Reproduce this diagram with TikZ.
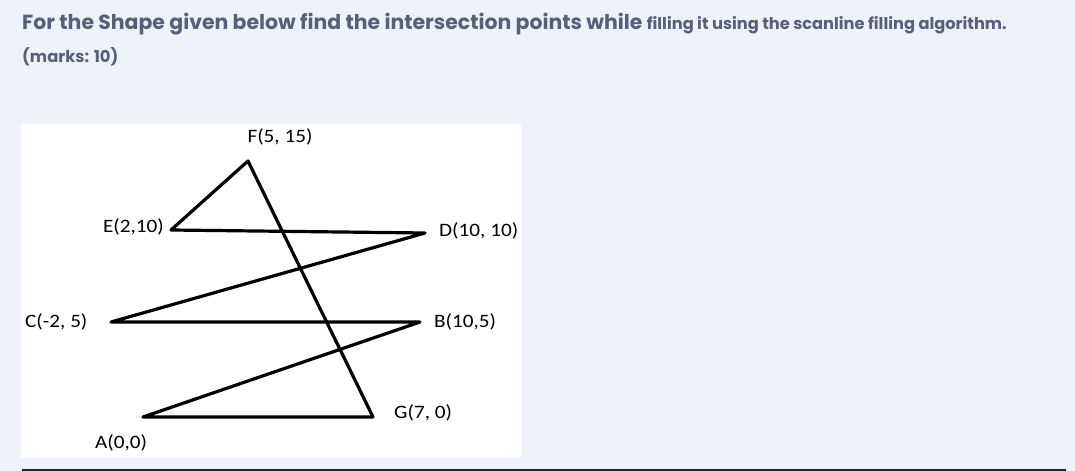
\documentclass[tikz,border=0pt]{standalone}
\usepackage{fontspec}
\setmainfont{Poppins}
\newfontfamily\lab{Carlito}[FakeStretch=1.12]
\definecolor{bg}{RGB}{238,242,251}
\definecolor{ttl}{RGB}{88,95,120}
\tikzset{
  lbl/.style={inner sep=0pt, font=\lab\fontsize{19}{22}\selectfont, text=black},
  shapeline/.style={line width=3.2bp, line join=round, line cap=round, draw=black},
}
\begin{document}
\begin{tikzpicture}[x=1bp,y=-1bp]
\useasboundingbox (0,0) rectangle (1075,471);
\fill[bg] (0,0) rectangle (1075,471);
\fill[white] (21,124) rectangle (521,458);
\node[anchor=base west, inner sep=0pt, text=ttl] (title) at (22,30)
  {\fontsize{20.5}{24}\selectfont\bfseries For the Shape given below find the intersection points while {\fontsize{16.3}{20}\selectfont filling it using the scanline filling algorithm.}};
\node[anchor=base west, inner sep=0pt, text=ttl] (marks) at (22,63)
  {\fontsize{16.4}{20}\selectfont\bfseries (marks: 10)};
% vertices
\coordinate (F) at (248,161);
\coordinate (E) at (171,230);
\coordinate (D) at (425,233);
\coordinate (C) at (111,322);
\coordinate (B) at (420,322);
\coordinate (A) at (143,417);
\coordinate (G) at (373,417);
\draw[shapeline] (A) -- (B) -- (C) -- (D) -- (E) -- (F) -- (G) -- cycle;
% labels
\node[lbl, anchor=center] (lF) at (280,137) {F(5, 15)};
\node[lbl, anchor=east] (lE) at (164,227) {E(2,10)};
\node[lbl, anchor=west] (lD) at (439,231) {D(10, 10)};
\node[lbl, anchor=west] (lC) at (25,322) {C(-2, 5)};
\node[lbl, anchor=west] (lB) at (434,322) {B(10,5)};
\node[lbl, anchor=west] (lG) at (394,413) {G(7, 0)};
\node[lbl, anchor=west] (lA) at (95,443) {A(0,0)};
% bottom rule
\coordinate (r1) at (22,470);
\coordinate (r2) at (1066,470);
\draw[line width=1.6bp, black!85] (r1) -- (r2);
\end{tikzpicture}
\end{document}
